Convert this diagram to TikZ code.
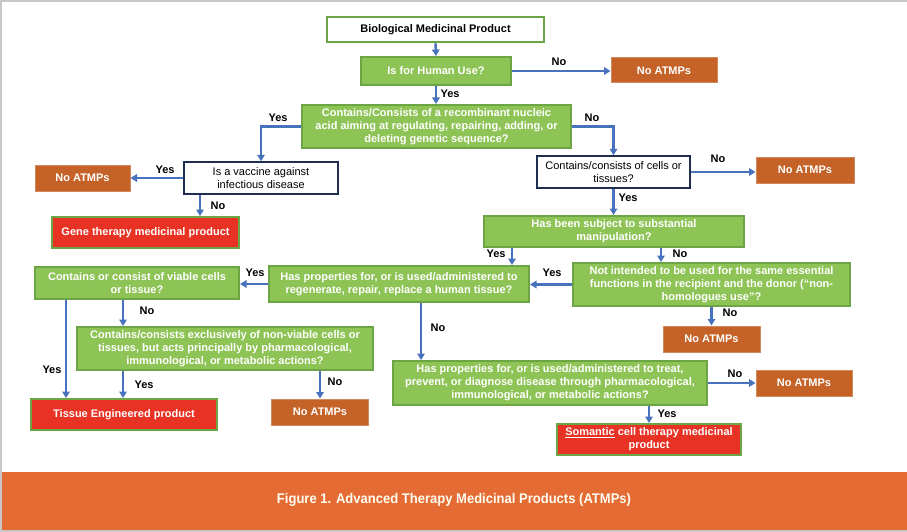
\documentclass[tikz,border=0pt]{standalone}
\usepackage{fontspec}
\setmainfont{Liberation Sans}
\usetikzlibrary{arrows.meta}
\definecolor{gfill}{RGB}{142,195,86}
\definecolor{gborder}{RGB}{108,165,68}
\definecolor{obox}{RGB}{196,98,40}
\definecolor{rbox}{RGB}{232,50,36}
\definecolor{arrblue}{RGB}{72,114,190}
\definecolor{navy}{RGB}{31,45,80}
\definecolor{footorange}{RGB}{228,108,52}
\definecolor{framegray}{RGB}{200,200,200}
\tikzset{
  base/.style={align=center, inner sep=0pt, font=\fontsize{11}{13}\selectfont\bfseries},
  gbox/.style={base, fill=gfill, draw=gborder, line width=2pt, text=white},
  wbox/.style={base, fill=white, draw=navy, line width=1.5pt, text=black, font=\fontsize{11}{13}\selectfont},
  tbox/.style={base, fill=white, draw=gborder, line width=2.5pt, text=black},
  obx/.style={base, fill=obox, draw=obox!75!white, line width=1pt, text=white},
  rbx/.style={base, fill=rbox, draw=gborder, line width=2pt, text=white},
  lab/.style={font=\fontsize{11}{13}\selectfont\bfseries, text=black, inner sep=0pt},
  arr/.style={draw=arrblue, line width=2.4pt, -{Triangle[length=6.5pt,width=7.5pt]}},
}
\begin{document}
\begin{tikzpicture}[x=1pt,y=-1pt]
\useasboundingbox (0,0) rectangle (907,532);
\fill[white] (0,0) rectangle (907,532);
% frame and footer
\fill[footorange] (1,472) rectangle (907,531);
\draw[framegray, line width=1.5pt] (907,1) -- (1,1) -- (1,531) -- (907,531);
\node[font=\fontsize{14}{16}\selectfont\bfseries, text=white!95!yellow] (cap) at (454,500) {\scalebox{0.93}[1]{Figure 1. Advanced Therapy Medicinal Products (ATMPs)}};

% nodes
\node[tbox, minimum width=217pt, minimum height=25pt] (bmp) at (435.5,29.5) {Biological Medicinal Product};
\node[gbox, minimum width=150pt, minimum height=28pt] (human) at (436,71) {Is for Human Use?};
\node[obx, minimum width=106pt, minimum height=25pt] (noA1) at (664,70.5) {No ATMPs};
\node[gbox, minimum width=269pt, minimum height=43pt] (recomb) at (436.5,126.5) {Contains/Consists of a recombinant nucleic\\acid aiming at regulating, repairing, adding, or\\deleting genetic sequence?};
\node[wbox, minimum width=154pt, minimum height=32pt] (vacc) at (261,178) {Is a vaccine against\\infectious disease};
\node[obx, minimum width=95pt, minimum height=26pt] (noA2) at (82.5,178) {No ATMPs};
\node[rbx, minimum width=187pt, minimum height=31pt] (gene) at (145.5,232.5) {Gene therapy medicinal product};
\node[wbox, minimum width=153pt, minimum height=32pt] (cells) at (613.5,172) {Contains/consists of cells or\\tissues?};
\node[obx, minimum width=98pt, minimum height=26pt] (noA3) at (805,170) {No ATMPs};
\node[gbox, minimum width=260pt, minimum height=31pt] (manip) at (614,231.5) {Has been subject to substantial\\manipulation?};
\node[gbox, minimum width=260pt, minimum height=36pt] (regen) at (399,284) {Has properties for, or is used/administered to\\regenerate, repair, replace a human tissue?};
\node[gbox, minimum width=277pt, minimum height=43pt] (notint) at (711.5,284.5) {Not intended to be used for the same essential\\functions in the recipient and the donor (``non-\\homologues use''?};
\node[gbox, minimum width=204pt, minimum height=32pt] (viable) at (137,283) {Contains or consist of viable cells\\or tissue?};
\node[gbox, minimum width=296pt, minimum height=43pt] (nonviable) at (225,348.5) {Contains/consists exclusively of non-viable cells or\\tissues, but acts principally by pharmacological,\\immunological, or metabolic actions?};
\node[rbx, minimum width=186pt, minimum height=31pt] (tissue) at (124,414.5) {Tissue Engineered product};
\node[obx, minimum width=97pt, minimum height=26pt] (noA4) at (320,412) {No ATMPs};
\node[gbox, minimum width=314pt, minimum height=44pt] (treat) at (550,383) {Has properties for, or is used/administered to treat,\\prevent, or diagnose disease through pharmacological,\\immunological, or metabolic actions?};
\node[obx, minimum width=97pt, minimum height=26pt] (noA5) at (711.5,339) {No ATMPs};
\node[obx, minimum width=96pt, minimum height=26pt] (noA6) at (804,383) {No ATMPs};
\node[rbx, minimum width=184pt, minimum height=31pt] (soma) at (649,439.5) {\underline{Somantic} cell therapy medicinal\\product};

% connectors
\draw[arr] (bmp.south) -- (human.north);
\draw[arr] (human.east) -- (human.east -| noA1.west);
\draw[arr] (human.south) -- (human.south |- recomb.north);
\draw[arr] (recomb.west) -| (vacc.north);
\draw[arr] (recomb.east) -| (cells.north);
\draw[arr] (vacc.west) -- (vacc.west -| noA2.east);
\draw[arr] ([xshift=-61pt]vacc.south) -- ([xshift=-61pt]vacc.south |- gene.north);
\draw[arr] (cells.east) -- (cells.east -| noA3.west);
\draw[arr] (cells.south) -- (cells.south |- manip.north);
\draw[arr] ([xshift=-102pt]manip.south) -- ([xshift=-102pt]manip.south |- regen.north);
\draw[arr] ([xshift=47pt]manip.south) -- ([xshift=47pt]manip.south |- notint.north);
\draw[arr] (notint.west) -- (notint.west -| regen.east);
\draw[arr] (regen.west) -- (regen.west -| viable.east);
\draw[arr] ([xshift=-14pt]viable.south) -- ([xshift=-14pt]viable.south |- nonviable.north);
\draw[arr] ([xshift=-71pt]viable.south) -- ([xshift=-71pt]viable.south |- tissue.north);
\draw[arr] ([xshift=-102pt]nonviable.south) -- ([xshift=-102pt]nonviable.south |- tissue.north);
\draw[arr] (nonviable.south -| noA4.north) -- (noA4.north);
\draw[arr] ([xshift=22pt]regen.south) -- ([xshift=22pt]regen.south |- treat.north);
\draw[arr] (notint.south) -- (notint.south |- noA5.north);
\draw[arr] (treat.east) -- (treat.east -| noA6.west);
\draw[arr] (treat.south -| soma.north) -- (soma.north);

% labels
\node[lab] (l1) at (559,62) {No};
\node[lab] (l2) at (450,94) {Yes};
\node[lab] (l3) at (278,118) {Yes};
\node[lab] (l4) at (592,118) {No};
\node[lab] (l5) at (165,170) {Yes};
\node[lab] (l6) at (218,206) {No};
\node[lab] (l7) at (718,159) {No};
\node[lab] (l8) at (628,198) {Yes};
\node[lab] (l9) at (496,254) {Yes};
\node[lab] (l10) at (680,254) {No};
\node[lab] (l11) at (552,273) {Yes};
\node[lab] (l12) at (255,273) {Yes};
\node[lab] (l13) at (147,311) {No};
\node[lab] (l14) at (52,370) {Yes};
\node[lab] (l15) at (144,385) {Yes};
\node[lab] (l16) at (335,382) {No};
\node[lab] (l17) at (438,328) {No};
\node[lab] (l18) at (730,313) {No};
\node[lab] (l19) at (735,374) {No};
\node[lab] (l20) at (667,414) {Yes};
\end{tikzpicture}
\end{document}
